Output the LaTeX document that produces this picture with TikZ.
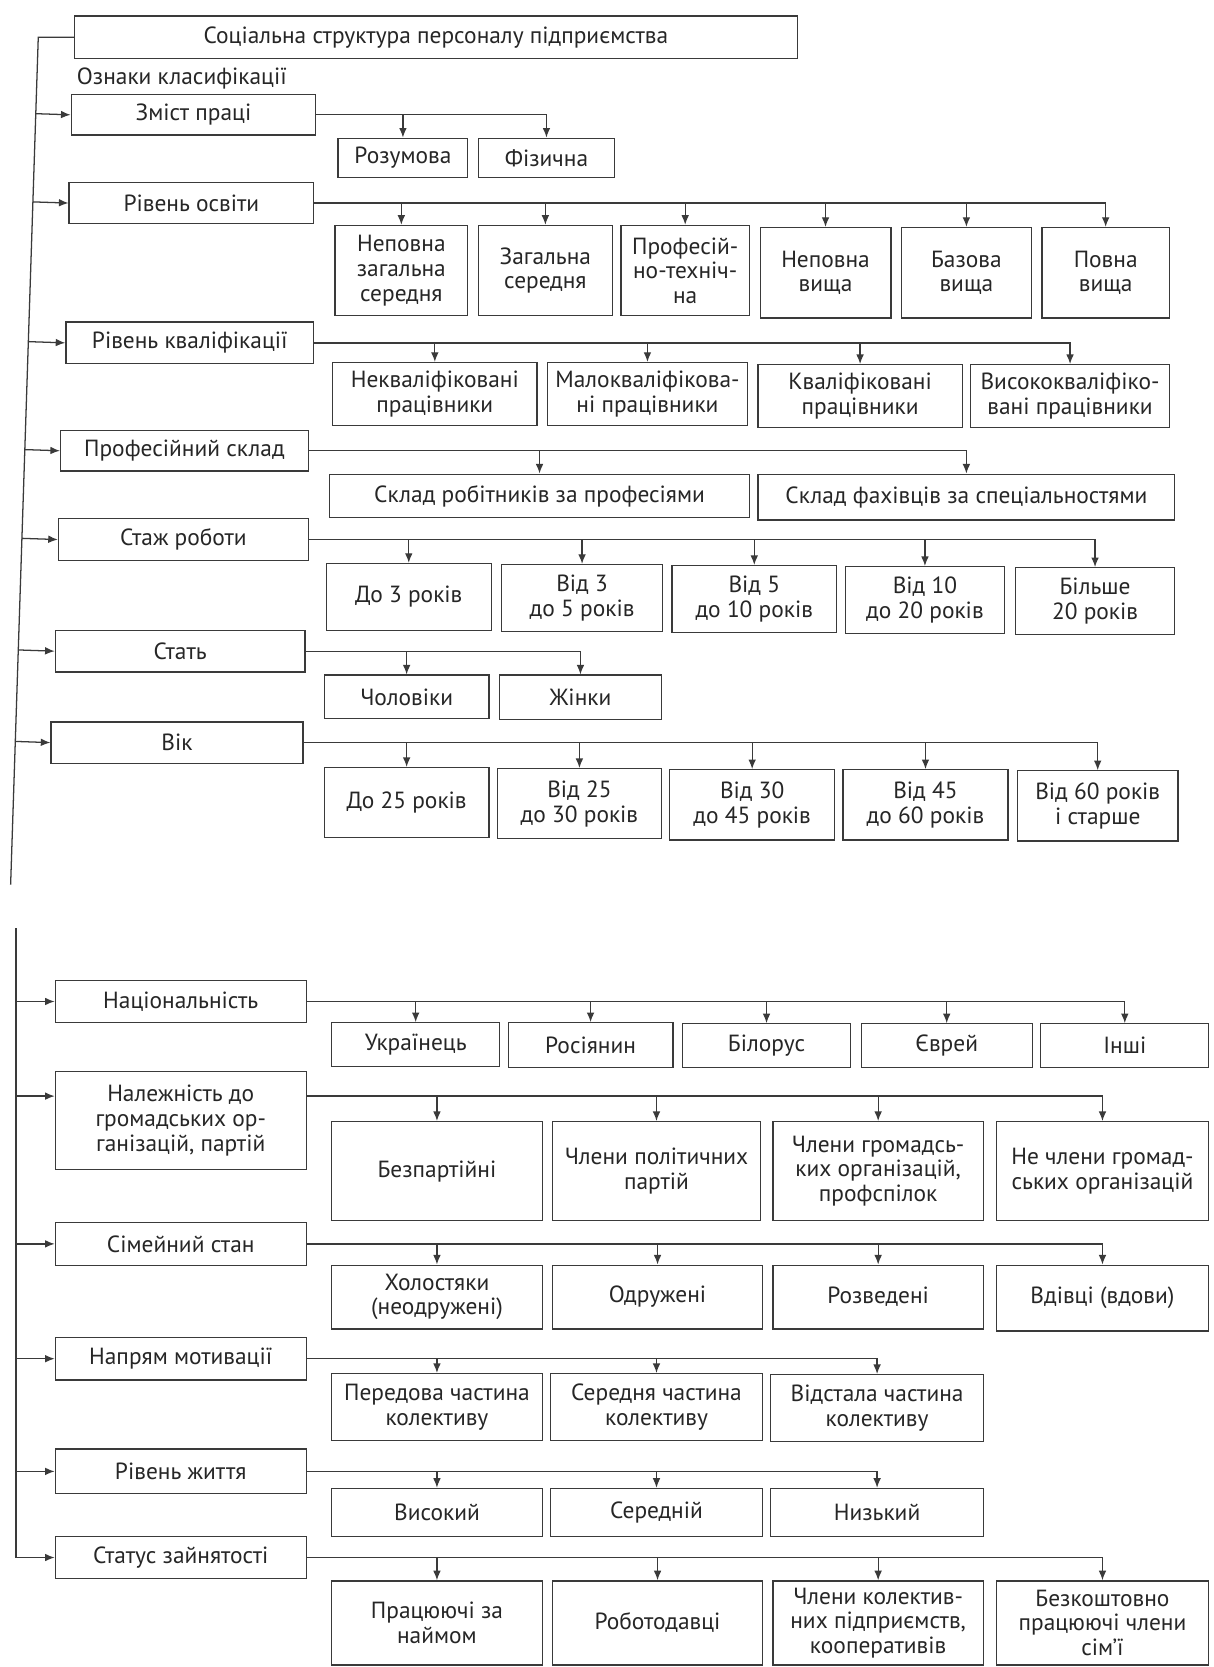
\documentclass[tikz,border=0pt]{standalone}
\usepackage{fontspec}
\setmainfont{PT Sans}
\usetikzlibrary{arrows.meta,calc}

\definecolor{linec}{HTML}{3A3A3A}
\definecolor{textc}{HTML}{262626}
\newcommand{\boxfont}{\fontsize{11}{11.6}\selectfont}

\tikzset{
  box/.style={draw=linec, line width=0.6pt, inner sep=0pt, align=center, text=textc, font=\boxfont},
  area/.style n args={4}{minimum width={(#3-#1)*0.5pt}, minimum height={(#4-#2)*0.5pt},
    at={({(#1+#3)/2},{(#2+#4)/2})}},
  arr/.style={draw=linec, line width=0.6pt, -{Latex[length=4.5pt,width=3.6pt]}},
  trunk/.style={draw=linec, line width=0.6pt},
}

\begin{document}
\begin{tikzpicture}[x=0.5pt, y=-0.5pt]
  \useasboundingbox[fill=white] (0,0) rectangle (1141,1568);

  % Title
  \node[box, area={70}{15}{750}{55}] (title) {Соціальна структура персоналу підприємства};
  \node[anchor=west, inner sep=0pt, text=textc, font=\boxfont] (oznaky) at (72,74) {Ознаки класифікації};

  % Trunk coordinates
  \coordinate (t1) at (36,35);
  \coordinate (t2) at (10,832);
  \coordinate (t3) at (15,873);

  % Upper part: criteria
  \node[box, area={67}{89}{297}{127}]  (zmist) {Зміст праці};
  \node[box, area={65}{172}{295}{210}] (osv)   {Рівень освіти};
  \node[box, area={62}{303}{295}{342}] (kval)  {Рівень кваліфікації};
  \node[box, area={57}{405}{290}{443}] (prof)  {Професійний склад};
  \node[box, area={55}{488}{290}{527}] (stazh) {Стаж роботи};
  \node[box, area={52}{593}{287}{632}] (stat)  {Стать};
  \node[box, area={48}{679}{285}{718}] (vik)   {Вік};

  % Zmist
  \node[box, area={318}{130}{440}{167}] (zmist1) {Розумова};
  \node[box, area={450}{130}{578}{167}] (zmist2) {Фізична};

  % Osvita
  \node[box, area={315}{212}{440}{297}]  (osv1) {Неповна\\загальна\\середня};
  \node[box, area={450}{212}{576}{297}]  (osv2) {Загальна\\середня};
  \node[box, area={584}{212}{705}{297}]  (osv3) {Професій-\\но-технiч-\\на};
  \node[box, area={715}{214}{838}{299}]  (osv4) {Неповна\\вища};
  \node[box, area={848}{214}{970}{299}]  (osv5) {Базова\\вища};
  \node[box, area={980}{214}{1100}{299}] (osv6) {Повна\\вища};

  % Kvalifikatsiya
  \node[box, area={313}{341}{505}{400}]  (kval1) {Некваліфіковані\\працівники};
  \node[box, area={515}{341}{703}{400}]  (kval2) {Малокваліфікова-\\ні працівники};
  \node[box, area={713}{343}{905}{402}]  (kval3) {Кваліфіковані\\працівники};
  \node[box, area={913}{343}{1100}{402}] (kval4) {Висококваліфіко-\\вані працівники};

  % Profesiynyi sklad
  \node[box, area={310}{446}{705}{487}]  (prof1) {Склад робітників за професіями};
  \node[box, area={713}{446}{1105}{489}] (prof2) {Склад фахівців за спеціальностями};

  % Stazh
  \node[box, area={307}{530}{462}{593}]  (stazh1) {До 3 років};
  \node[box, area={472}{531}{623}{594}]  (stazh2) {Від 3\\до 5 років};
  \node[box, area={632}{532}{787}{595}]  (stazh3) {Від 5\\до 10 років};
  \node[box, area={795}{533}{945}{596}]  (stazh4) {Від 10\\до 20 років};
  \node[box, area={955}{534}{1105}{597}] (stazh5) {Більше\\20 років};

  % Stat
  \node[box, area={305}{635}{460}{676}] (stat1) {Чоловіки};
  \node[box, area={470}{635}{622}{677}] (stat2) {Жінки};

  % Vik
  \node[box, area={305}{722}{460}{788}]  (vik1) {До 25 років};
  \node[box, area={468}{723}{622}{789}]  (vik2) {Від 25\\до 30 років};
  \node[box, area={630}{724}{785}{790}]  (vik3) {Від 30\\до 45 років};
  \node[box, area={793}{724}{948}{790}]  (vik4) {Від 45\\до 60 років};
  \node[box, area={957}{725}{1108}{791}] (vik5) {Від 60 років\\і старше};

  % Lower part: criteria
  \node[box, area={52}{922}{288}{962}]   (nats)   {Національність};
  \node[box, area={52}{1008}{288}{1100}] (nal)    {Належність до\\громадських ор-\\ганізацій, партій};
  \node[box, area={52}{1150}{288}{1190}] (sim)    {Сімейний стан};
  \node[box, area={52}{1258}{288}{1298}] (motiv)  {Напрям мотивації};
  \node[box, area={52}{1363}{288}{1405}] (zhyt)   {Рівень життя};
  \node[box, area={52}{1445}{288}{1485}] (status) {Статус зайнятості};

  % Natsionalnist
  \node[box, area={312}{962}{470}{1003}]  (nats1) {Українець};
  \node[box, area={478}{962}{633}{1004}]  (nats2) {Росіянин};
  \node[box, area={642}{963}{800}{1004}]  (nats3) {Білорус};
  \node[box, area={810}{963}{971}{1004}]  (nats4) {Єврей};
  \node[box, area={979}{963}{1137}{1004}] (nats5) {Інші};

  % Nalezhnist
  \node[box, area={312}{1055}{510}{1148}]  (nal1) {Безпартійні};
  \node[box, area={520}{1055}{715}{1148}]  (nal2) {Члени політичних\\партій};
  \node[box, area={727}{1055}{925}{1148}]  (nal3) {Члени громадсь-\\ких організацій,\\профспілок};
  \node[box, area={937}{1055}{1137}{1148}] (nal4) {Не члени громад-\\ських організацій};

  % Simeinyi stan
  \node[box, area={312}{1190}{510}{1250}]  (sim1) {Холостяки\\(неодружені)};
  \node[box, area={520}{1190}{717}{1250}]  (sim2) {Одружені};
  \node[box, area={727}{1190}{925}{1250}]  (sim3) {Розведені};
  \node[box, area={937}{1190}{1137}{1252}] (sim4) {Вдівці (вдови)};

  % Motyvatsiya
  \node[box, area={312}{1292}{510}{1355}] (motiv1) {Передова частина\\колективу};
  \node[box, area={518}{1292}{717}{1355}] (motiv2) {Середня частина\\колективу};
  \node[box, area={725}{1293}{925}{1356}] (motiv3) {Відстала частина\\колективу};

  % Riven zhyttia
  \node[box, area={312}{1400}{510}{1445}] (zhyt1) {Високий};
  \node[box, area={518}{1400}{717}{1445}] (zhyt2) {Середній};
  \node[box, area={725}{1400}{925}{1445}] (zhyt3) {Низький};

  % Status
  \node[box, area={312}{1487}{510}{1566}]  (st1) {Працюючі за\\наймом};
  \node[box, area={520}{1487}{717}{1566}]  (st2) {Роботодавці};
  \node[box, area={727}{1487}{925}{1566}]  (st3) {Члени колектив-\\них підприємств,\\кооперативів};
  \node[box, area={937}{1487}{1137}{1566}] (st4) {Безкоштовно\\працюючі члени\\сім’ї};

  % Trunk lines
  \draw[trunk] (title.west) -- (t1) -- (t2);
  \draw[arr] (t3) |- (status.west);
  \foreach \p in {zmist,osv,kval,prof,stazh,stat,vik}
    \draw[arr] ($(t1)!(\p.west)!(t2)$) -- (\p.west);
  \coordinate (nalw) at ([yshift=11.5pt]nal.west);
  \coordinate (nale) at ([yshift=11.5pt]nal.east);
  \draw[arr] (t3 |- nalw) -- (nalw);
  \foreach \p in {nats,sim,motiv,zhyt}
    \draw[arr] (t3 |- \p.west) -- (\p.west);

  % Branches
  \draw[arr] (zmist.east) -| (zmist2.north);
  \draw[arr] (zmist1.north |- zmist.east) -- (zmist1.north);

  \draw[arr] (osv.east) -| (osv6.north);
  \foreach \c in {osv1,osv2,osv3,osv4,osv5}
    \draw[arr] (\c.north |- osv.east) -- (\c.north);

  \draw[arr] (kval.east) -| (kval4.north);
  \foreach \c in {kval1,kval2,kval3}
    \draw[arr] (\c.north |- kval.east) -- (\c.north);

  \draw[arr] (prof.east) -| (prof2.north);
  \draw[arr] (prof1.north |- prof.east) -- (prof1.north);

  \draw[arr] (stazh.east) -| (stazh5.north);
  \foreach \c in {stazh1,stazh2,stazh3,stazh4}
    \draw[arr] (\c.north |- stazh.east) -- (\c.north);

  \draw[arr] (stat.east) -| (stat2.north);
  \draw[arr] (stat1.north |- stat.east) -- (stat1.north);

  \draw[arr] (vik.east) -| (vik5.north);
  \foreach \c in {vik1,vik2,vik3,vik4}
    \draw[arr] (\c.north |- vik.east) -- (\c.north);

  \draw[arr] (nats.east) -| (nats5.north);
  \foreach \c in {nats1,nats2,nats3,nats4}
    \draw[arr] (\c.north |- nats.east) -- (\c.north);

  \draw[arr] (nale) -| (nal4.north);
  \foreach \c in {nal1,nal2,nal3}
    \draw[arr] (\c.north |- nale) -- (\c.north);

  \draw[arr] (sim.east) -| (sim4.north);
  \foreach \c in {sim1,sim2,sim3}
    \draw[arr] (\c.north |- sim.east) -- (\c.north);

  \draw[arr] (motiv.east) -| (motiv3.north);
  \foreach \c in {motiv1,motiv2}
    \draw[arr] (\c.north |- motiv.east) -- (\c.north);

  \draw[arr] (zhyt.east) -| (zhyt3.north);
  \foreach \c in {zhyt1,zhyt2}
    \draw[arr] (\c.north |- zhyt.east) -- (\c.north);

  \draw[arr] (status.east) -| (st4.north);
  \foreach \c in {st1,st2,st3}
    \draw[arr] (\c.north |- status.east) -- (\c.north);

\end{tikzpicture}
\end{document}
